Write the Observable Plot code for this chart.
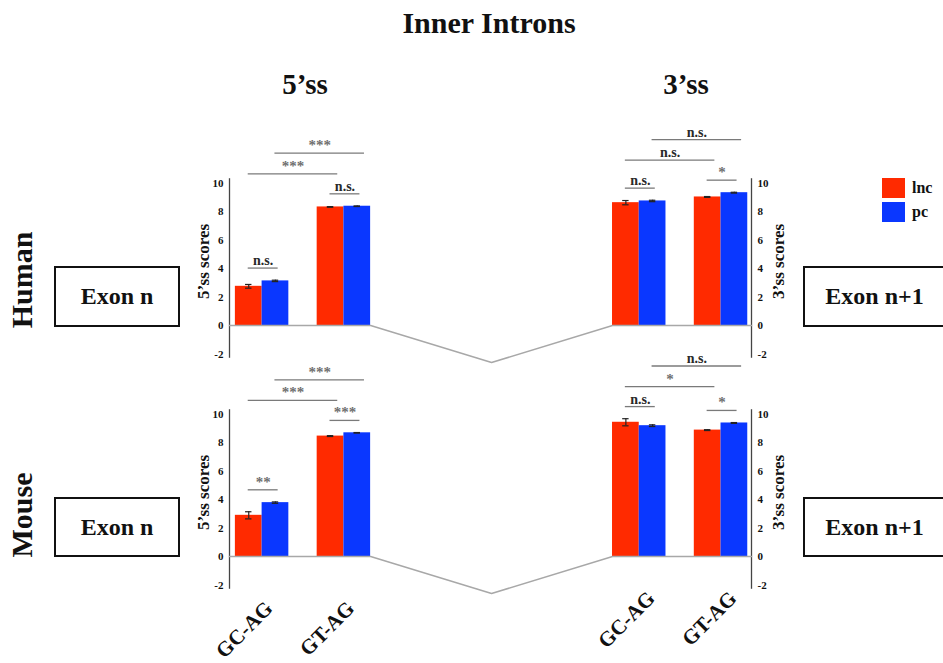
<!DOCTYPE html>
<html>
<head>
<meta charset="utf-8">
<script src="https://cdn.jsdelivr.net/npm/d3@7"></script>
<script src="https://cdn.jsdelivr.net/npm/@observablehq/plot@0.6"></script>
<style>
  body { margin: 0; background: #fff; }
  #fig {
    position: relative; width: 943px; height: 663px; overflow: hidden;
    font-family: "Liberation Serif", "Times New Roman", serif; font-weight: bold; color: #111;
  }
  .abs { position: absolute; white-space: nowrap; transform: translate(-50%, -50%); line-height: 1; }
  .exon {
    position: absolute; border: 2px solid #111; box-sizing: border-box;
    display: flex; align-items: center; justify-content: center; font-size: 24px;
  }
  .swatch { position: absolute; width: 23px; height: 20px; }
  .leg { position: absolute; font-size: 16px; line-height: 1; transform: translateY(-50%); }
  #fig svg { position: absolute; left: 0; }
</style>
</head>
<body>
<div id="fig"></div>
<script>
// ---- data ----
const titleText = "Inner Introns";
const speciesNames = ["Human", "Mouse"];
const siteNames = ["5’ss", "3’ss"];
const scoreAxisLabels = ["5’ss scores", "3’ss scores"];
const motifNames = ["GC-AG", "GT-AG"];
const seriesNames = ["lnc", "pc"];
const exonNames = ["Exon n", "Exon n+1"];
const yTicks = [-2, 0, 2, 4, 6, 8, 10];

// mean splice-site scores, order: GC-AG lnc, GC-AG pc, GT-AG lnc, GT-AG pc
const human5ss = [2.75, 3.13, 8.32, 8.37];
const human3ss = [8.62, 8.74, 9.02, 9.32];
const mouse5ss = [2.89, 3.78, 8.45, 8.68];
const mouse3ss = [9.42, 9.18, 8.87, 9.37];

// standard errors, same order
const human5ssErr = [0.13, 0.05, 0.02, 0.02];
const human3ssErr = [0.15, 0.05, 0.03, 0.03];
const mouse5ssErr = [0.25, 0.05, 0.03, 0.02];
const mouse3ssErr = [0.25, 0.06, 0.03, 0.03];

// significance: GC-AG lnc vs pc, GT-AG lnc vs pc, lnc GC-AG vs GT-AG, pc GC-AG vs GT-AG
const human5ssSig = ["n.s.", "n.s.", "***", "***"];
const human3ssSig = ["n.s.", "*", "n.s.", "n.s."];
const mouse5ssSig = ["**", "***", "***", "***"];
const mouse3ssSig = ["n.s.", "*", "*", "n.s."];

// ---- layout ----
const RED = "#ff2a00", BLUE = "#0a37ff";
const X_DOMAIN = [-0.22, 19.31];      // x in bar-width units, left axis to right axis
const X_RANGE = [229, 751];
const SITE_OFFSET = [0, 14.11];
const MOTIF_OFFSET = [0, 3.06];
const UNIT = 14.25;                   // px per score unit
const INTRON_DIP = -2.6;
const comparisons = [[0, 1, false], [2, 3, false], [0, 2, true], [1, 3, true]];

const fig = document.getElementById("fig");

function buildPanel(site, scores, errs, sig) {
  const bars = scores.map((score, i) => {
    const motif = Math.floor(i / 2), k = i % 2;
    const x1 = SITE_OFFSET[site] + MOTIF_OFFSET[motif] + k;
    return {site, motif: motifNames[motif], series: seriesNames[k], score, err: errs[i], x1, x2: x1 + 1, xc: x1 + 0.5};
  });
  const within = comparisons.filter(c => !c[2]).map(([a, b]) =>
    Math.max(bars[a].score + bars[a].err, bars[b].score + bars[b].err) + 0.85);
  const mid = Math.max(...within) + 1.4;
  const brackets = comparisons.map(([a, b, between], j) => ({
    label: sig[j],
    x1: bars[a].xc - 0.02,
    x2: bars[b].xc + (between ? 0.27 : 0.1),
    y: between ? (j === 2 ? mid : mid + 1.45) : within[j]
  }));
  return {bars, brackets};
}

function buildRow({top, height, y0, panels, showMotifs}) {
  const bars = panels.flatMap(p => p.bars);
  const brackets = panels.flatMap(p => p.brackets);
  const leftEnd = SITE_OFFSET[0] + MOTIF_OFFSET[1] + 2;
  const rightStart = SITE_OFFSET[1];
  const intron = [
    {x: X_DOMAIN[0], y: 0}, {x: leftEnd, y: 0},
    {x: (leftEnd + rightStart) / 2, y: INTRON_DIP},
    {x: rightStart, y: 0}, {x: X_DOMAIN[1], y: 0}
  ];
  const motifLabels = [0, 1].flatMap(s => motifNames.map((m, g) => ({
    site: s, label: m, x: SITE_OFFSET[s] + MOTIF_OFFSET[g] + 1
  })));
  const yr = y0 - top;
  const textStyle = {fontFamily: "Liberation Serif, Times New Roman, serif", fontWeight: "bold"};
  const svg = Plot.plot({
    width: 943, height,
    marginLeft: X_RANGE[0], marginRight: 943 - X_RANGE[1], marginTop: 10, marginBottom: 10,
    x: {domain: X_DOMAIN, range: X_RANGE, axis: null},
    y: {domain: [-2, 10], range: [yr + 2 * UNIT, yr - 10 * UNIT], axis: null},
    color: {domain: seriesNames, range: [RED, BLUE]},
    style: {background: "transparent", overflow: "visible", fontFamily: textStyle.fontFamily, fontWeight: "bold", color: "#111"},
    marks: [
      Plot.ruleX([X_DOMAIN[0], X_DOMAIN[1]], {y1: -2.3, y2: 10.3, stroke: "#444", strokeWidth: 1.3}),
      Plot.axisY({anchor: "left", ticks: yTicks, tickSize: 0, tickPadding: 6, tickFormat: d => String(d), fontSize: 11, label: null, fill: "#111"}),
      Plot.axisY({anchor: "right", ticks: yTicks, tickSize: 0, tickPadding: 6, tickFormat: d => String(d), fontSize: 11, label: null, fill: "#111"}),
      Plot.text([scoreAxisLabels[0]], {x: () => X_DOMAIN[0], y: () => 4.5, rotate: -90, dx: -26, fontSize: 17, fill: "#111"}),
      Plot.text([scoreAxisLabels[1]], {x: () => X_DOMAIN[1], y: () => 4.5, rotate: -90, dx: 27, fontSize: 17, fill: "#111"}),
      Plot.rectY(bars, {x1: "x1", x2: "x2", y: "score", fill: "series"}),
      Plot.ruleX(bars, {x: "xc", y1: d => d.score - d.err, y2: d => d.score + d.err, stroke: "#222", strokeWidth: 1.2}),
      Plot.ruleY(bars, {y: d => d.score + d.err, x1: d => d.xc - 0.12, x2: d => d.xc + 0.12, stroke: "#222", strokeWidth: 1.2}),
      Plot.ruleY(bars, {y: d => d.score - d.err, x1: d => d.xc - 0.12, x2: d => d.xc + 0.12, stroke: "#222", strokeWidth: 1.2}),
      Plot.line(intron, {x: "x", y: "y", stroke: "#a8a8a8", strokeWidth: 1.5}),
      Plot.ruleY(brackets, {y: "y", x1: "x1", x2: "x2", stroke: "#7a7a7a", strokeWidth: 1.3}),
      Plot.text(brackets, {
        x: d => (d.x1 + d.x2) / 2, y: "y", text: "label", lineAnchor: "bottom", dy: -3,
        fontSize: d => d.label === "n.s." ? 14 : 15,
        fill: d => d.label === "n.s." ? "#2a2a2a" : "#6f6f6f"
      }),
      showMotifs ? Plot.text(motifLabels.filter(d => d.site === 0), {
        x: "x", y: () => -2, text: "label", rotate: -45, textAnchor: "end", dx: 7, dy: 20, fontSize: 21, fill: "#111"
      }) : null,
      showMotifs ? Plot.text(motifLabels.filter(d => d.site === 1), {
        x: "x", y: () => -2, text: "label", rotate: -45, textAnchor: "end", dx: 12, dy: 10, fontSize: 21, fill: "#111"
      }) : null
    ]
  });
  svg.style.top = top + "px";
  fig.appendChild(svg);
}

// ---- headings, row labels, exon boxes, legend ----
function addText(text, x, y, size, rotate = 0) {
  const el = document.createElement("div");
  el.className = "abs";
  el.textContent = text;
  el.style.left = x + "px";
  el.style.top = y + "px";
  el.style.fontSize = size + "px";
  if (rotate) el.style.transform = `translate(-50%, -50%) rotate(${rotate}deg)`;
  fig.appendChild(el);
}
addText(titleText, 489, 23, 30);
addText(siteNames[0], 305, 84, 29);
addText(siteNames[1], 686, 84, 29);
addText(speciesNames[0], 22, 280, 30, -90);
addText(speciesNames[1], 22, 515, 30, -90);

[[266, 61], [497, 60]].forEach(([t, h]) => {
  [[54, 126, exonNames[0]], [803, 143, exonNames[1]]].forEach(([l, w, name]) => {
    const box = document.createElement("div");
    box.className = "exon";
    box.style.left = l + "px"; box.style.top = t + "px";
    box.style.width = w + "px"; box.style.height = h + "px";
    box.textContent = name;
    fig.appendChild(box);
  });
});

seriesNames.forEach((name, i) => {
  const sw = document.createElement("div");
  sw.className = "swatch";
  sw.style.left = "882px"; sw.style.top = (178 + i * 24) + "px";
  sw.style.background = [RED, BLUE][i];
  fig.appendChild(sw);
  const lab = document.createElement("div");
  lab.className = "leg";
  lab.style.left = "912px"; lab.style.top = (188 + i * 24) + "px";
  lab.textContent = name;
  fig.appendChild(lab);
});

// ---- chart rows ----
buildRow({
  top: 100, height: 270, y0: 325, showMotifs: false,
  panels: [buildPanel(0, human5ss, human5ssErr, human5ssSig), buildPanel(1, human3ss, human3ssErr, human3ssSig)]
});
buildRow({
  top: 355, height: 308, y0: 556, showMotifs: true,
  panels: [buildPanel(0, mouse5ss, mouse5ssErr, mouse5ssSig), buildPanel(1, mouse3ss, mouse3ssErr, mouse3ssSig)]
});
</script>
</body>
</html>
